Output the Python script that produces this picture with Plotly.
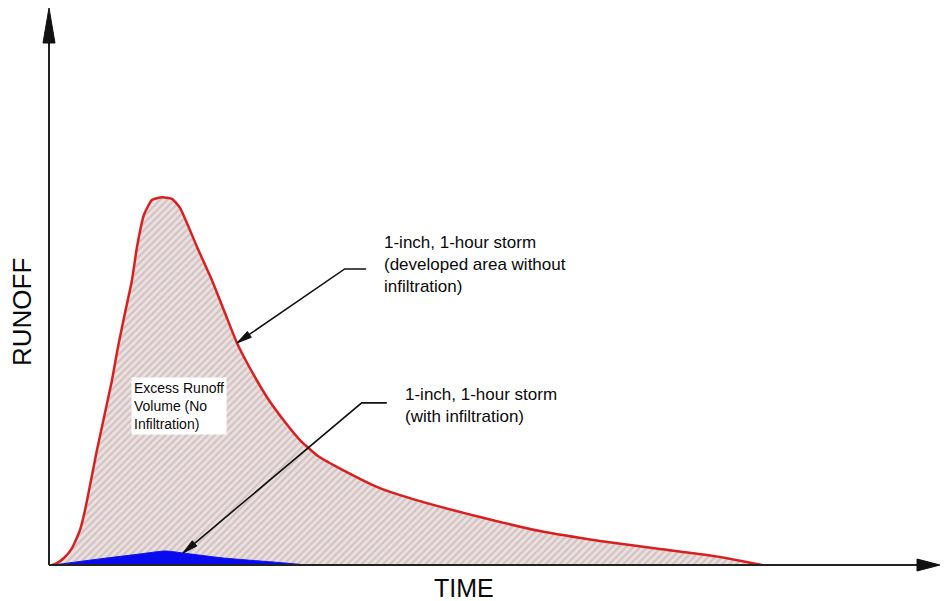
import plotly.graph_objects as go

# ---- data (time and runoff in arbitrary units, 0-100 scales) ----
red_time = [0.33, 0.89, 1.67, 2.57, 3.46, 4.02, 5.36, 7.03, 7.70, 8.48, 9.26, 9.82, 10.60, 11.49,
            12.61, 13.73, 14.62, 16.52, 18.19, 19.64, 20.98, 22.10, 24.33, 26.34, 28.01,
            30.02, 32.81, 36.94, 41.41, 48.10, 54.80, 61.50, 68.19, 74.89, 79.58]
red_runoff = [0.0, 0.35, 1.24, 3.0, 6.2, 9.7, 20.4, 32.7, 38.6, 44.6, 50.4, 56.3, 62.0, 64.6,
              65.1, 64.8, 63.2, 56.3, 50.4, 44.6, 39.3, 35.8, 29.7, 25.3, 22.1,
              19.3, 16.8, 13.6, 11.3, 8.5, 6.0, 4.25, 2.83, 1.42, 0.0]
blue_time = [0.45, 6.47, 10.16, 12.95, 14.96, 19.42, 25.0, 28.8]
blue_runoff = [0.0, 1.24, 1.95, 2.48, 2.12, 1.24, 0.53, 0.0]

label_dev = "1-inch, 1-hour storm<br>(developed area without<br>infiltration)"
label_inf = "1-inch, 1-hour storm<br>(with infiltration)"
label_excess = "Excess Runoff<br>Volume (No<br>Infiltration)"

# ---- layout geometry ----
W, H = 945, 601
ML, MB, MT, MR = 49, 36, 0, 0
XR, YR = 100.0, 100.0
PXX = (W - ML - MR) / XR   # px per time unit
PXY = (H - MB - MT) / YR   # px per runoff unit
FONT = "Liberation Sans, Arial, sans-serif"

def head_path(tip, tail, length=15, width=7):
    """Triangle arrowhead path in data coords, pointing from tail to tip."""
    tx, ty = tip[0] * PXX, -tip[1] * PXY
    sx, sy = tail[0] * PXX, -tail[1] * PXY
    dx, dy = tx - sx, ty - sy
    n = (dx * dx + dy * dy) ** 0.5
    ux, uy = dx / n, dy / n
    bx, by = tx - ux * length, ty - uy * length
    px_, py_ = -uy * width / 2, ux * width / 2
    pts = [(tx, ty), (bx + px_, by + py_), (bx - px_, by - py_)]
    d = [(x / PXX, -y / PXY) for x, y in pts]
    return "M{},{} L{},{} L{},{} Z".format(d[0][0], d[0][1], d[1][0], d[1][1], d[2][0], d[2][1])

fig = go.Figure()

fig.add_trace(go.Scatter(
    x=red_time, y=red_runoff, mode="lines",
    line=dict(color="#d92020", width=2.5, shape="spline", smoothing=0.5),
    fill="tozeroy",
    fillpattern=dict(shape="/", bgcolor="#ebe1e1", fgcolor="#bca3a3", size=5, solidity=0.45),
    hoverinfo="skip", showlegend=False))

fig.add_trace(go.Scatter(
    x=blue_time, y=blue_runoff, mode="lines",
    line=dict(color="#1010f0", width=1, shape="spline", smoothing=0.6),
    fill="tozeroy", fillcolor="#0a0aee",
    hoverinfo="skip", showlegend=False))

# leader lines
tip1 = (red_time[20], red_runoff[20])
elbow1 = (33.0, 52.4)
end1 = (35.4, 52.4)
tip2 = (blue_time[4], blue_runoff[4])
elbow2 = (34.9, 28.7)
end2 = (37.7, 28.7)

for tip, elbow, end in [(tip1, elbow1, end1), (tip2, elbow2, end2)]:
    fig.add_trace(go.Scatter(
        x=[end[0], elbow[0], tip[0]], y=[end[1], elbow[1], tip[1]], mode="lines",
        line=dict(color="#111111", width=1.6), hoverinfo="skip", showlegend=False))

shapes = []
for tip, elbow in [(tip1, elbow1), (tip2, elbow2)]:
    shapes.append(dict(type="path", xref="x", yref="y", path=head_path(tip, elbow),
                       fillcolor="#111111", line=dict(color="#111111", width=1)))

# axes lines with arrowheads (paper coords)
ax_col = "#222222"
x_tip = (940 - ML) / (W - ML - MR)
y_tip = (H - MB - 8) / (H - MB - MT)
shapes += [
    dict(type="line", xref="paper", yref="paper", x0=0, y0=0, x1=x_tip - 0.02, y1=0,
         line=dict(color=ax_col, width=2)),
    dict(type="line", xref="paper", yref="paper", x0=0, y0=0, x1=0, y1=y_tip - 0.04,
         line=dict(color=ax_col, width=2)),
]
pw, ph = W - ML - MR, H - MB - MT
xa_len, xa_half = 23 / pw, 6 / ph
shapes.append(dict(type="path", xref="paper", yref="paper",
                   path="M{},{} L{},{} L{},{} Z".format(x_tip, 0, x_tip - xa_len, xa_half, x_tip - xa_len, -xa_half),
                   fillcolor="#111111", line=dict(color="#111111", width=1)))
ya_len, ya_half = 35 / ph, 6 / pw
shapes.append(dict(type="path", xref="paper", yref="paper",
                   path="M{},{} L{},{} L{},{} Z".format(0, y_tip, -ya_half, y_tip - ya_len, ya_half, y_tip - ya_len),
                   fillcolor="#111111", line=dict(color="#111111", width=1)))

annotations = [
    dict(x=37.2, y=53.1, xref="x", yref="y", text=label_dev, showarrow=False,
         xanchor="left", yanchor="middle", align="left",
         font=dict(family=FONT, size=17, color="#0a0a0a")),
    dict(x=39.5, y=28.3, xref="x", yref="y", text=label_inf, showarrow=False,
         xanchor="left", yanchor="middle", align="left",
         font=dict(family=FONT, size=17, color="#0a0a0a")),
    dict(x=9.2, y=28.1, xref="x", yref="y", text=label_excess, showarrow=False,
         xanchor="left", yanchor="middle", align="left", bgcolor="white", borderpad=2,
         font=dict(family=FONT, size=14, color="#0a0a0a")),
    dict(x=(22 - ML) / pw, y=(H - MB - 312) / ph, xref="paper", yref="paper", text="RUNOFF",
         textangle=-90, showarrow=False, xanchor="center", yanchor="middle",
         font=dict(family=FONT, size=26, color="#0a0a0a")),
    dict(x=(464 - ML) / pw, y=-(588 - (H - MB)) / ph, xref="paper", yref="paper", text="TIME",
         showarrow=False, xanchor="center", yanchor="middle",
         font=dict(family=FONT, size=25, color="#0a0a0a")),
]

fig.update_layout(
    width=W, height=H,
    margin=dict(l=ML, r=MR, t=MT, b=MB),
    paper_bgcolor="white", plot_bgcolor="white",
    xaxis=dict(range=[0, XR], visible=False, fixedrange=True),
    yaxis=dict(range=[0, YR], visible=False, fixedrange=True),
    shapes=shapes, annotations=annotations, showlegend=False,
)

fig.write_html("out.html", config={"displayModeBar": False},
               post_script="document.body.style.margin='0px';document.body.style.overflow='hidden';")
